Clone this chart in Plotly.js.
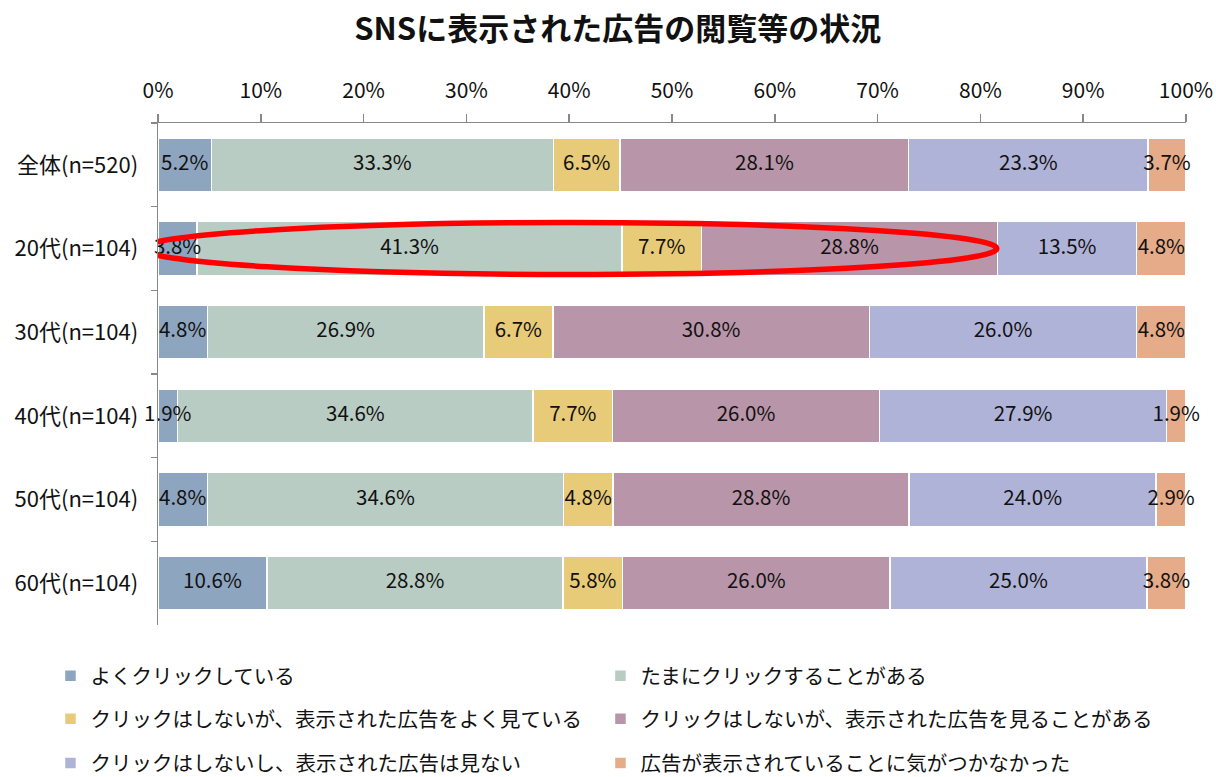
<!DOCTYPE html>
<html><head><meta charset="utf-8">
<script src="https://cdn.plot.ly/plotly-3.0.1.min.js"></script>
<style>html,body{margin:0;padding:0;background:#fff}#chart{width:1216px;height:777px}</style>
</head><body><div id="chart"></div>
<script>
const categories = ['全体(n=520)','20代(n=104)','30代(n=104)','40代(n=104)','50代(n=104)','60代(n=104)'];
const seriesNames = ['よくクリックしている','たまにクリックすることがある','クリックはしないが、表示された広告をよく見ている','クリックはしないが、表示された広告を見ることがある','クリックはしないし、表示された広告は見ない','広告が表示されていることに気がつかなかった'];
const s1 = [5.2, 3.8, 4.8, 1.9, 4.8, 10.6];
const s2 = [33.3, 41.3, 26.9, 34.6, 34.6, 28.8];
const s3 = [6.5, 7.7, 6.7, 7.7, 4.8, 5.8];
const s4 = [28.1, 28.8, 30.8, 26.0, 28.8, 26.0];
const s5 = [23.3, 13.5, 26.0, 27.9, 24.0, 25.0];
const s6 = [3.7, 4.8, 4.8, 1.9, 2.9, 3.8];
const colors = ['#8EA5C0','#B9CCC4','#E8CB78','#B895A8','#B0B3D8','#E6AB88'];
const series = [s1,s2,s3,s4,s5,s6];
const legendIds = ['legend','legend','legend2','legend2','legend3','legend3'];
const FONT = '"Noto Sans CJK JP", "Noto Sans", sans-serif';

// row totals (for 100% normalisation, like the original 100% stacked bar)
const totals = categories.map((_,r)=>series.reduce((a,s)=>a+s[r],0));

const traces = series.map((vals,i)=>({
  type:'bar', orientation:'h', name: seriesNames[i],
  y: categories, x: vals,
  legend: legendIds[i],
  marker:{color: colors[i], line:{color:'#ffffff', width:1.5}},
  hoverinfo:'skip'
}));

// data labels on top of all bars, centred on each segment (positions derived from the data)
const lx=[], ly=[], lt=[];
categories.forEach((c,r)=>{
  let cum=0;
  series.forEach(s=>{
    const v = s[r]/totals[r]*100;
    lx.push(cum + v/2); ly.push(c); lt.push(s[r].toFixed(1)+'%');
    cum += v;
  });
});
traces.push({type:'scatter', mode:'text', x:lx, y:ly, text:lt, textposition:'middle center',
  cliponaxis:false, showlegend:false, hoverinfo:'skip',
  textfont:{family:FONT, size:20.5, color:'#111'}});

function leg(y){
  return {orientation:'h', x:-0.1046, xanchor:'left', y:y, yanchor:'middle',
    entrywidth:505, entrywidthmode:'pixels', itemwidth:30, traceorder:'normal',
    font:{size:20.5, family:FONT, color:'#111'}, bgcolor:'rgba(0,0,0,0)'};
}

const layout = {
  width:1216, height:777,
  margin:{l:158, r:30, t:123, b:152, autoexpand:false},
  paper_bgcolor:'#fff', plot_bgcolor:'#fff',
  barmode:'stack', barnorm:'percent', bargap:0.355,
  font:{family:FONT, color:'#111'},
  title:{text:'<b>SNSに表示された広告の閲覧等の状況</b>', x:0.508, xref:'container', xanchor:'center', y:0.963, yanchor:'middle', font:{size:31, color:'#111', family:FONT}},
  xaxis:{range:[0,100], side:'top', dtick:10, ticksuffix:'%', showgrid:false, zeroline:false,
    showline:true, linecolor:'#888', linewidth:1.5, ticks:'outside', ticklen:8, tickcolor:'#888', tickwidth:1.5,
    tickfont:{size:21, family:FONT, color:'#111'}, ticklabelstandoff:7, fixedrange:true},
  yaxis:{autorange:'reversed', type:'category', showgrid:false, zeroline:false,
    showline:true, linecolor:'#888', linewidth:1.5, ticks:'outside', ticklen:6, tickcolor:'#888', tickwidth:1.5,
    tickson:'boundaries', tickfont:{size:22, family:FONT, color:'#111'}, ticklabelstandoff:14, fixedrange:true},
  showlegend:true,
  legend: leg(-0.1016),
  legend2: leg(-0.187),
  legend3: leg(-0.275),
  shapes:[{type:'circle', xref:'x', yref:'y', x0:-1.5, x1:81.6, y0:0.69, y1:1.31,
    line:{color:'#FF0000', width:5.5}, layer:'above'}]
};
Plotly.newPlot('chart', traces, layout, {displayModeBar:false, staticPlot:true});
</script></body></html>
